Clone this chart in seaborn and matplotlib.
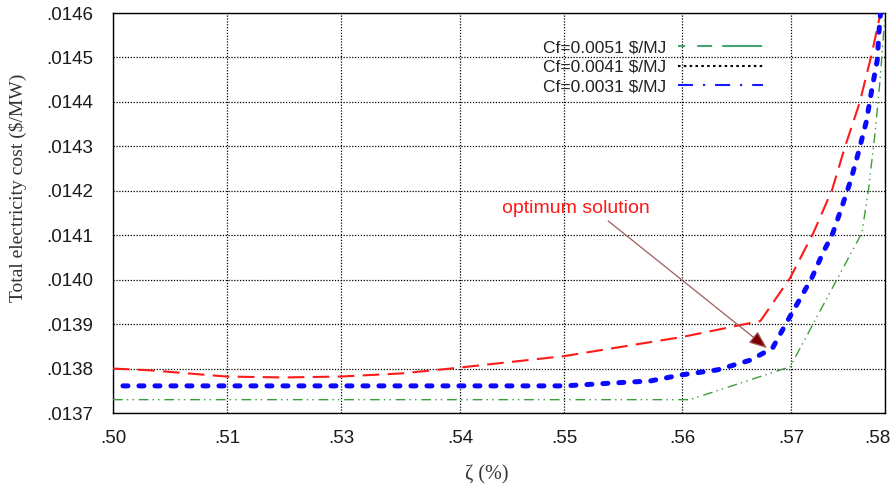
import matplotlib
matplotlib.use("Agg")
import matplotlib.pyplot as plt
from matplotlib.lines import Line2D
from matplotlib.transforms import ScaledTranslation
import seaborn as sns

# x axis: zeta tick labels and where they sit along the axis
zeta_labels = [".50", ".51", ".53", ".54", ".55", ".56", ".57", ".58"]
zeta_ticks = [0.0, 1.034, 2.067, 3.146, 4.089, 5.159, 6.147, 7.0]

# y axis: total electricity cost ticks
cost_ticks = [0.0137, 0.0138, 0.0139, 0.0140, 0.0141,
              0.0142, 0.0143, 0.0144, 0.0145, 0.0146]
cost_labels = [".0137", ".0138", ".0139", ".0140", ".0141",
               ".0142", ".0143", ".0144", ".0145", ".0146"]

# red dashed curve
zeta_hi = [0.0, 0.34, 1.03, 1.54, 2.06, 2.61, 3.06, 4.09, 5.16, 5.87,
           6.14, 6.35, 6.52, 6.64, 6.77, 6.88, 6.96]
cost_hi = [0.013800, 0.013796, 0.013782, 0.013780, 0.013782, 0.013789,
           0.013800, 0.013828, 0.013871, 0.013907, 0.014004, 0.014105,
           0.014202, 0.014301, 0.014398, 0.014508, 0.014600]

# blue thick dotted curve
zeta_mid = [0.09, 4.09, 4.57, 4.87, 5.16, 5.48, 5.78, 5.98, 6.12, 6.26,
            6.34, 6.44, 6.52, 6.60, 6.69, 6.76, 6.83, 6.88, 6.93, 6.945, 6.96]
cost_mid = [0.013761, 0.013761, 0.013768, 0.013772, 0.013786, 0.013797,
            0.013819, 0.013846, 0.013909, 0.013970, 0.014006, 0.014062,
            0.014100, 0.014157, 0.014224, 0.014287, 0.014355, 0.014427,
            0.014494, 0.014557, 0.014600]

# green dash-dot-dot curve
zeta_lo = [0.0, 5.23, 6.14, 6.79, 6.85, 6.91, 6.955, 6.99, 7.0]
cost_lo = [0.013730, 0.013730, 0.013804, 0.014105, 0.014202, 0.014330,
           0.014449, 0.014562, 0.014600]

legend_labels = [r"Cf=0.0051 \$/MJ", r"Cf=0.0041 \$/MJ", r"Cf=0.0031 \$/MJ"]

# optimum marker: annotation text and arrow
note_text = "optimum solution"
note_xy = (3.53, 0.014161)
arrow_tail = (4.49, 0.014132)
arrow_tip = (5.93, 0.013846)

sns.set_theme(style="white")
plt.rcParams["font.family"] = ["Liberation Sans", "DejaVu Sans"]

fig = plt.figure(figsize=(8.96, 4.92), dpi=100)
ax = fig.add_axes([113 / 896, 1 - 413 / 492, 772 / 896, 400 / 492])

sns.lineplot(x=zeta_hi, y=cost_hi, ax=ax, color="#ff1a1a", lw=1.5,
             linestyle=(0, (8, 4)), sort=False, zorder=3)
sns.lineplot(x=zeta_lo, y=cost_lo, ax=ax, color="#3c9c3c", lw=1.0,
             linestyle=(0, (7, 3, 1, 3, 1, 3.5)), sort=False, zorder=3)
sns.lineplot(x=zeta_mid, y=cost_mid, ax=ax, color="#0a0aff", lw=3.6,
             linestyle=(0, (1.0, 2.2)), dash_capstyle="round",
             sort=False, zorder=4)

ax.set_xlim(0, 7)
ax.set_ylim(cost_ticks[0], cost_ticks[-1])
ax.set_xticks(zeta_ticks)
ax.set_xticklabels(zeta_labels)
ax.set_yticks(cost_ticks)
ax.set_yticklabels(cost_labels)
ax.tick_params(length=0, labelsize=13.5, labelcolor="#1a1a1a")
ax.tick_params(axis="y", pad=14)
ax.tick_params(axis="x", pad=12)

# keep the last x label inside the figure edge
last = ax.get_xticklabels()[-1]
last.set_transform(last.get_transform()
                   + ScaledTranslation(-8 / 100, 0, fig.dpi_scale_trans))

ax.grid(True, color="black", linestyle=(0, (1, 1.3)), lw=0.9)
ax.set_axisbelow(True)
for sp in ax.spines.values():
    sp.set_color("black")
    sp.set_linewidth(1.0)

ax.set_ylabel(r"Total electricity cost (\$/MW)", family=["Liberation Serif"],
              fontsize=14, color="#333333")
ax.yaxis.set_label_coords(-0.111, 0.5625)
ax.set_xlabel("ζ (%)", family=["Liberation Serif"], fontsize=14.5,
              color="#333333")
ax.xaxis.set_label_coords(0.484, -0.13)

handles = [
    Line2D([], [], color="#46a673", lw=1.5,
           linestyle=(0, (3.4, 5.8, 7.2, 4.8, 19.2, 10))),
    Line2D([], [], color="black", lw=1.5, linestyle=(0, (1.2, 1.6))),
    Line2D([], [], color="#1a1aff", lw=1.5,
           linestyle=(0, (7.2, 4.8, 1, 4.8))),
]
leg = ax.legend(handles, legend_labels, loc="upper right",
                bbox_to_anchor=(763 / 896, 1 - 40 / 492),
                bbox_transform=fig.transFigure, frameon=False,
                markerfirst=False, handlelength=4.9, handletextpad=0.7,
                labelspacing=0.26, borderpad=0, borderaxespad=0,
                fontsize=12.5)
for t in leg.get_texts():
    t.set_color("#222222")

ax.text(note_xy[0], note_xy[1], note_text, color="#ff1a1a", fontsize=14,
        ha="left", va="center", zorder=6)
ax.annotate("", xy=arrow_tip, xytext=arrow_tail,
            arrowprops=dict(arrowstyle="-|>,head_length=0.5,head_width=0.2",
                            edgecolor="#a05a5a", facecolor="#7a0000",
                            lw=0.9, mutation_scale=22,
                            shrinkA=0, shrinkB=0),
            zorder=6)

fig.savefig("out.png", dpi=100)
